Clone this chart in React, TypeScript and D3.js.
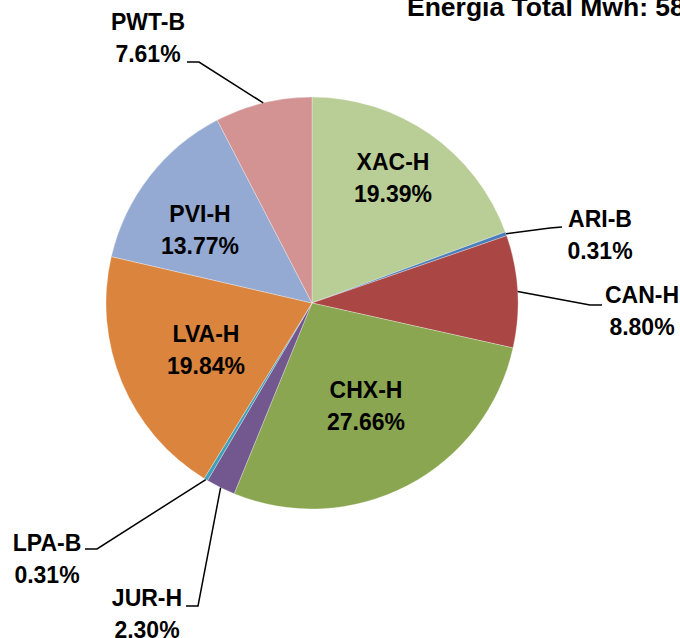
import React from "react";
import * as d3 from "d3";

// slices in clockwise order from 12 o'clock
const names = ["XAC-H", "ARI-B", "CAN-H", "CHX-H", "JUR-H", "LPA-B", "LVA-H", "PVI-H", "PWT-B"];
const shares = [19.39, 0.31, 8.8, 27.66, 2.3, 0.31, 19.84, 13.77, 7.61];
const colors = ["#B9CD96", "#4A7EBB", "#AA4644", "#8AA650", "#72588F", "#40A0BA", "#DB843D", "#94AAD2", "#D29392"];
const titleText = "Energia Total Mwh: 58";

// label layout (Excel hand-placed labels)
const labelLayout: Record<string, { x: number; y: number; leader?: [number, number][] }> = {
  "XAC-H": { x: 393, y: 170 },
  "CHX-H": { x: 366, y: 398 },
  "LVA-H": { x: 206, y: 342 },
  "PVI-H": { x: 200, y: 222 },
  "PWT-B": { x: 148, y: 30, leader: [[199, 62], [187, 62]] },
  "ARI-B": { x: 600, y: 227, leader: [[550, 228], [562, 227]] },
  "CAN-H": { x: 642, y: 303, leader: [[590, 305], [602, 305]] },
  "LPA-B": { x: 47, y: 551, leader: [[97, 549], [85, 549]] },
  "JUR-H": { x: 147, y: 606, leader: [[198, 606], [186, 606]] },
};

const width = 680;
const height = 638;
const cx = 312;
const cy = 303;
const radius = 206;
const lineGap = 32;
const font = "'Liberation Sans', Arial, sans-serif";

const App = () => {
  const data = names.map((name, i) => ({ name, value: shares[i], color: colors[i] }));
  const pie = d3.pie<any>().value((d) => d.value).sort(null);
  const arcs = pie(data);
  const arc = d3.arc<any>().innerRadius(0).outerRadius(radius);

  return (
    <svg
      width={width}
      height={height}
      style={{ position: "absolute", left: 0, top: 0, background: "#fff" }}
    >
      <g transform={`translate(${cx},${cy})`}>
        {arcs.map((a) => (
          <path
            key={a.data.name}
            d={arc(a) as string}
            fill={a.data.color}
            stroke="#ffffff"
            strokeOpacity={0.5}
            strokeWidth={0.6}
          />
        ))}
      </g>
      {arcs.map((a) => {
        const lay = labelLayout[a.data.name];
        if (!lay.leader) return null;
        const mid = (a.startAngle + a.endAngle) / 2;
        const start: [number, number] = [cx + radius * Math.sin(mid), cy - radius * Math.cos(mid)];
        const pts = [start, ...lay.leader];
        return (
          <path
            key={"l" + a.data.name}
            d={d3.line()(pts) as string}
            fill="none"
            stroke="#000"
            strokeWidth={1.5}
          />
        );
      })}
      {arcs.map((a) => {
        const lay = labelLayout[a.data.name];
        return (
          <text
            key={"t" + a.data.name}
            x={lay.x}
            y={lay.y}
            textAnchor="middle"
            fontFamily={font}
            fontWeight="bold"
            fontSize={23}
            fill="#000"
          >
            <tspan x={lay.x}>{a.data.name}</tspan>
            <tspan x={lay.x} dy={lineGap}>
              {d3.format(".2f")(a.data.value)}%
            </tspan>
          </text>
        );
      })}
      <text x={407} y={16} fontFamily={font} fontWeight="bold" fontSize={26.5} fill="#000">
        {titleText}
      </text>
    </svg>
  );
};

export default App;
